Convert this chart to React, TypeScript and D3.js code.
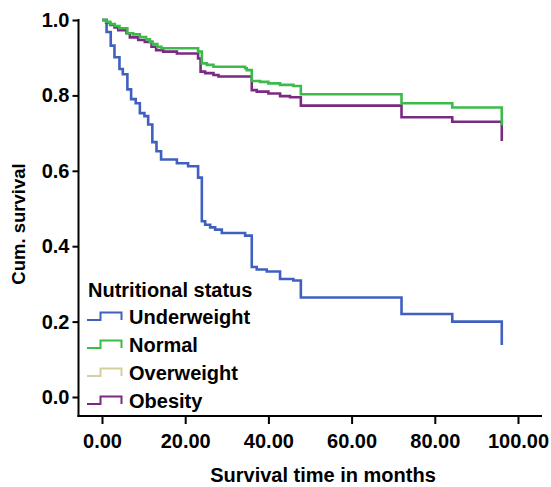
import React from "react";
import * as d3 from "d3";

// survival estimates (time in months, cum. survival)
const underweightTime = [0, 1.1, 2.1, 3.0, 4.2, 5.0, 6.1, 7.0, 8.1, 9.1, 10.2, 11.1, 12.1, 13.1, 14.2, 18.0, 20.7, 23.1, 24.0, 24.8, 26.0, 27.2, 28.8, 34.4, 36.0, 37.2, 39.6, 42.8, 46.0, 47.8, 72.0, 84.2, 96.1];
const underweightSurv = [1, 0.968, 0.932, 0.901, 0.87, 0.856, 0.816, 0.79, 0.779, 0.753, 0.745, 0.723, 0.676, 0.652, 0.63, 0.62, 0.612, 0.582, 0.466, 0.457, 0.45, 0.444, 0.435, 0.428, 0.345, 0.338, 0.333, 0.313, 0.309, 0.264, 0.22, 0.2, 0.138];

const normalTime = [0, 1.0, 1.9, 3.1, 4.2, 6.1, 7.5, 9.1, 10.6, 11.5, 12.2, 13.3, 14.3, 23.1, 24.0, 25.2, 26.8, 34.4, 34.8, 36.0, 38.0, 40.0, 42.8, 46.0, 47.8, 72.0, 84.2, 96.1];
const normalSurv = [1, 0.995, 0.989, 0.984, 0.978, 0.965, 0.962, 0.955, 0.949, 0.942, 0.936, 0.929, 0.925, 0.916, 0.885, 0.881, 0.876, 0.872, 0.867, 0.838, 0.836, 0.832, 0.828, 0.825, 0.803, 0.779, 0.768, 0.721];

// overweight isn't visible in the plot, only in the legend
const overweightTime: number[] = [];
const overweightSurv: number[] = [];

const obesityTime = [0, 1.0, 2.0, 3.0, 3.9, 5.9, 6.7, 8.7, 10.3, 11.9, 13.0, 14.7, 18.0, 23.1, 23.7, 24.8, 26.8, 28.0, 36.0, 37.2, 40.0, 42.8, 45.2, 47.8, 72.0, 84.2, 96.1];
const obesitySurv = [1, 0.993, 0.987, 0.98, 0.973, 0.965, 0.954, 0.947, 0.942, 0.929, 0.92, 0.916, 0.911, 0.898, 0.863, 0.859, 0.854, 0.85, 0.814, 0.81, 0.805, 0.798, 0.795, 0.773, 0.742, 0.73, 0.679];

const groups = ["Underweight", "Normal", "Overweight", "Obesity"];
const colors = ["#4060bf", "#3cba4a", "#d6cf9e", "#7b2a82"];
const xTicks = [0, 20, 40, 60, 80, 100];
const yTicks = [0, 0.2, 0.4, 0.6, 0.8, 1.0];

const W = 551;
const H = 487;
const font = "'Liberation Sans', Arial, sans-serif";

export default function App() {
  const axRef = React.useRef<SVGGElement>(null);

  const x = d3.scaleLinear().domain([0, 100]).range([102, 518]);
  const y = d3.scaleLinear().domain([0, 1]).range([397, 20]);

  const series = [
    { t: underweightTime, s: underweightSurv },
    { t: normalTime, s: normalSurv },
    { t: overweightTime, s: overweightSurv },
    { t: obesityTime, s: obesitySurv },
  ];

  const line = d3
    .line<[number, number]>()
    .x(d => x(d[0]))
    .y(d => y(d[1]))
    .curve(d3.curveStepAfter);

  React.useEffect(() => {
    const g = d3.select(axRef.current);
    g.selectAll("*").remove();

    const xAxis = d3.axisBottom(x).tickValues(xTicks).tickSize(8).tickPadding(10).tickFormat(d3.format(".2f"));
    g.append("g").attr("transform", "translate(0,416)").call(xAxis);

    const yAxis = d3.axisLeft(y).tickValues(yTicks).tickSize(6).tickPadding(3).tickFormat(d3.format(".1f"));
    g.append("g").attr("transform", "translate(78.5,0)").call(yAxis);

    g.selectAll(".domain").remove();
    g.selectAll(".tick line").attr("stroke", "#000").attr("stroke-width", 2);
    g.selectAll(".tick text")
      .attr("fill", "#000")
      .style("font-family", font)
      .style("font-size", "20px")
      .style("font-weight", "bold");
  }, []);

  // draw order: obesity under normal
  const order = [0, 2, 3, 1];

  return (
    <svg width={W} height={H} style={{ position: "absolute", left: 0, top: 0 }}>
      <rect width={W} height={H} fill="#fff" />
      {order.map(i => (
        <path
          key={groups[i]}
          d={series[i].t.length ? line(series[i].t.map((t, j) => [t, series[i].s[j]] as [number, number])) || "" : ""}
          fill="none"
          stroke={colors[i]}
          strokeWidth={2.6}
        />
      ))}
      <g ref={axRef} />
      <line x1={78.5} x2={78.5} y1={19} y2={417} stroke="#000" strokeWidth={2} />
      <line x1={77.5} x2={542} y1={416} y2={416} stroke="#000" strokeWidth={2} />

      <text x={18} y={224} transform="rotate(-90 18 224)" textAnchor="middle" dominantBaseline="central"
        style={{ fontFamily: font, fontSize: 18.5, fontWeight: "bold" }}>Cum. survival</text>
      <text x={323} y={482} textAnchor="middle" style={{ fontFamily: font, fontSize: 20, fontWeight: "bold" }}>
        Survival time in months
      </text>

      <g style={{ fontFamily: font, fontWeight: "bold", fontSize: 20 }}>
        <text x={88} y={297}>Nutritional status</text>
        {groups.map((name, i) => {
          const yb = 323.5 + i * 28;
          return (
            <g key={name}>
              <path
                d={`M87,${yb - 3.5}H100.5V${yb - 11}H121.5V${yb - 3.5}`}
                fill="none"
                stroke={colors[i]}
                strokeWidth={2}
              />
              <text x={129} y={yb}>{name}</text>
            </g>
          );
        })}
      </g>
    </svg>
  );
}
